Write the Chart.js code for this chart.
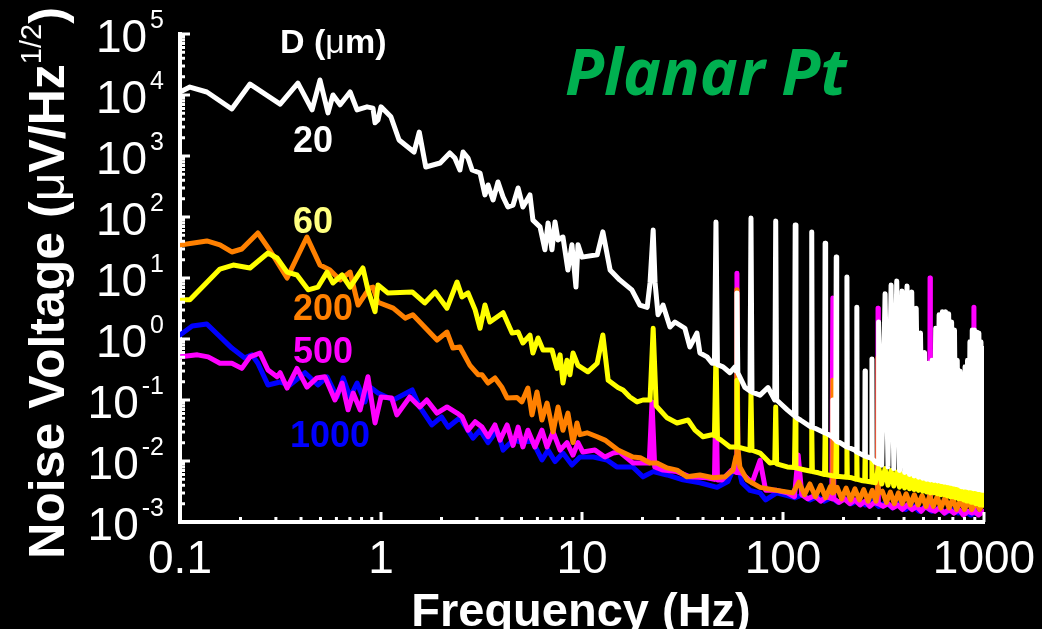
<!DOCTYPE html>
<html>
<head>
<meta charset="utf-8">
<script src="https://cdn.jsdelivr.net/npm/chart.js@4.4.1/dist/chart.umd.min.js"></script>
<style>
html, body { margin: 0; padding: 0; background: #000; overflow: hidden; }
</style>
</head>
<body>
<canvas id="noiseChart" width="1042" height="629"></canvas>
<script>
// Noise spectra for planar Pt electrodes of different diameter, [Hz, uV/sqrt(Hz)]
const noise20um = [
  [0.1, 11200], [0.112, 13500], [0.136, 11200], [0.181, 5900], [0.223, 15100], [0.315, 7100],
  [0.386, 15700], [0.454, 5700], [0.497, 17600], [0.545, 5100], [0.577, 10000], [0.626, 6900],
  [0.702, 11200], [0.76, 5700], [0.852, 6400], [0.912, 6100], [0.934, 3500], [0.966, 3900], [1.0, 6400],
  [1.12, 4400], [1.23, 1830], [1.46, 1160], [1.55, 2470], [1.67, 661], [1.97, 767], [2.2, 1120],
  [2.33, 927], [2.47, 589], [2.56, 1160], [2.71, 927], [2.84, 589], [3.11, 526], [3.29, 230],
  [3.41, 335], [3.61, 190], [3.82, 375], [4.05, 213], [4.28, 146], [4.54, 157], [4.81, 299],
  [5.08, 146], [5.51, 230], [5.7, 89], [6.18, 69], [6.54, 29], [6.78, 80], [7.09, 29], [7.34, 83],
  [7.6, 42], [8.04, 47], [8.51, 13.5], [8.91, 35], [9.33, 7.1], [9.55, 35], [10, 22], [11.9, 24],
  [12.7, 57], [13.8, 13.5], [14.1, 12.5], [15.4, 9.3], [17.7, 6.4], [19.4, 3.6], [21.1, 3.3],
  [21.8, 8.3], [22.6, 61], [23.1, 8.3], [23.9, 2.5], [25.3, 3.6], [27.4, 1.57], [29, 1.9],
  [32.5, 1.5], [34.4, 0.74], [37.3, 1.25], [38.6, 0.59], [41.9, 0.51], [44.4, 0.40], [45.6, 0.4],
  [46.4, 83], [47.2, 0.38], [50.3, 0.35], [54.5, 0.28], [57.7, 0.35], [58.4, 0.3], [59, 5.7],
  [59.6, 0.28], [64.7, 0.16], [68.5, 0.14], [69.3, 96], [70.1, 0.135], [76.9, 0.12], [84.2, 0.16],
  [91, 0.1], [92, 86], [93, 0.1], [105, 0.069], [114, 0.055], [115, 74], [116, 0.052], [122, 0.047],
  [138, 0.036], [139, 57], [140, 0.036], [161, 0.029], [162, 37], [163, 0.029], [176, 0.025],
  [177, 0.1], [178, 0.024], [183, 0.022], [184, 22], [185, 0.021], [192, 0.02], [207, 0.017],
  [208, 10.4], [209, 0.017], [228, 0.0151], [232, 0.014], [233, 3.3], [234, 0.014], [255, 0.012],
  [256, 0.3], [257, 0.012], [271, 0.0113], [276, 0.011], [277, 0.47], [278, 0.011], [288, 0.0095],
  [298, 0.009], [299, 1.9], [310, 0.0085], [322, 5.5], [333, 0.008], [345, 7.7], [356, 0.0075],
  [368, 8.9], [380, 0.007], [391, 6.1], [403, 0.0065], [414, 7.4], [426, 0.006], [437, 5.9],
  [449, 0.0057], [460, 3.2], [472, 0.0054], [483, 1.25], [495, 0.0052], [506, 0.6], [518, 0.005],
  [529, 0.4], [541, 0.0049], [552, 0.45], [564, 0.0048], [575, 1.5], [587, 0.0047], [598, 2.5],
  [610, 0.0046], [621, 2.8], [633, 0.0045], [644, 2.8], [656, 0.0044], [667, 2.6], [679, 0.0043],
  [690, 1.9], [702, 0.0042], [713, 1.4], [725, 0.0041], [736, 0.45], [748, 0.004], [759, 0.3],
  [771, 0.0038], [782, 0.26], [794, 0.0037], [805, 0.35], [817, 0.0037], [828, 0.45], [840, 0.0036],
  [851, 0.9], [863, 0.0036], [874, 1.4], [886, 0.0035], [897, 1.4], [909, 0.0035], [920, 1.3],
  [932, 0.0034], [943, 1.25], [955, 0.0034], [966, 0.9], [978, 0.0033], [989, 0.7], [1000, 0.0033]
];

const noise60um = [
  [0.1, 4.4], [0.112, 4.4], [0.158, 14], [0.184, 16.3], [0.223, 14.6], [0.274, 25.7], [0.304, 21.3],
  [0.341, 12.5], [0.382, 11.2], [0.434, 6.4], [0.486, 7.1], [0.539, 12.5], [0.577, 8.3], [0.64, 11.2],
  [0.702, 7.1], [0.813, 14.6], [0.861, 6.4], [0.934, 2.8], [0.966, 7.7], [1.08, 5.7], [1.43, 5.9],
  [1.65, 3.9], [1.86, 5.9], [2.13, 3.2], [2.39, 8.6], [2.53, 4.9], [2.71, 5.7], [2.94, 3.0],
  [3.11, 1.5], [3.29, 3.6], [3.48, 1.9], [4.05, 2.7], [4.49, 1.25], [4.81, 1.3], [5.08, 0.86],
  [5.51, 1.16], [5.7, 0.59], [6.04, 1.04], [6.4, 0.66], [7.09, 0.66], [7.51, 0.33], [7.78, 0.55],
  [8.04, 0.19], [8.42, 0.45], [8.71, 0.26], [9.02, 0.59], [9.55, 0.37], [10.7, 0.29], [11.9, 0.40],
  [12.7, 1.16], [13.5, 0.21], [15.1, 0.16], [16, 0.146], [17.3, 0.112], [18.8, 0.093], [20.1, 0.1],
  [21.8, 0.1], [22.6, 1.5], [23.4, 0.08], [26.5, 0.051], [29.7, 0.042], [33.7, 0.047], [36.5, 0.032],
  [40, 0.025], [44.4, 0.027], [45.6, 0.026], [46.4, 0.59], [47.2, 0.024], [49.2, 0.022], [54.5, 0.017],
  [58.4, 0.017], [59, 0.21], [59.6, 0.017], [62.5, 0.0163], [68.5, 0.015], [69.3, 0.13], [70.1, 0.015],
  [76.9, 0.0135], [86.1, 0.0093], [91, 0.0095], [92, 0.077], [93, 0.009], [105, 0.008], [114, 0.0078],
  [115, 0.05], [116, 0.0077], [127, 0.0072], [138, 0.0068], [139, 0.035], [140, 0.0067], [150, 0.0064],
  [161, 0.006], [162, 0.028], [163, 0.006], [173, 0.0058], [183, 0.0056], [184, 0.02], [185, 0.0056],
  [196, 0.0055], [207, 0.0054], [208, 0.016], [209, 0.0054], [220, 0.0053], [232, 0.005], [233, 0.013],
  [234, 0.005], [245, 0.0048], [255, 0.0047], [256, 0.011], [257, 0.0047], [266, 0.0046], [276, 0.0045],
  [277, 0.01], [278, 0.0045], [288, 0.0044], [299, 0.008], [310, 0.0042], [322, 0.0075], [333, 0.004],
  [345, 0.007], [356, 0.0039], [368, 0.0066], [380, 0.0037], [391, 0.0063], [403, 0.0036], [414, 0.006],
  [426, 0.0035], [437, 0.0057], [449, 0.0034], [460, 0.0055], [472, 0.0033], [483, 0.0052], [495, 0.0032],
  [506, 0.005], [518, 0.0031], [529, 0.0048], [541, 0.003], [552, 0.0047], [564, 0.003], [575, 0.0046],
  [587, 0.0029], [598, 0.0045], [610, 0.0028], [621, 0.0044], [633, 0.0028], [644, 0.0043], [656, 0.0027],
  [667, 0.0042], [679, 0.0026], [690, 0.0041], [702, 0.0026], [713, 0.004], [725, 0.0025], [736, 0.0039],
  [748, 0.0024], [759, 0.0038], [771, 0.0024], [782, 0.0037], [794, 0.0023], [805, 0.0036], [817, 0.0022],
  [828, 0.0036], [840, 0.0022], [851, 0.0035], [863, 0.0021], [874, 0.0035], [886, 0.0021], [897, 0.0034],
  [909, 0.002], [920, 0.0034], [932, 0.002], [943, 0.0033], [955, 0.0019], [966, 0.0033], [978, 0.0019],
  [989, 0.0033], [1000, 0.0019]
];

const noise200um = [
  [0.1, 34.8], [0.136, 40.5], [0.158, 35], [0.181, 26.7], [0.203, 29.9], [0.244, 54.7], [0.281, 28],
  [0.341, 10], [0.428, 47], [0.497, 16.3], [0.557, 13.5], [0.626, 9.3], [0.702, 12.5], [0.769, 3.6],
  [0.832, 5.3], [0.881, 6.9], [0.912, 7.1], [0.966, 4.0], [1.15, 3.2], [1.32, 2.2], [1.44, 2.5],
  [1.9, 0.96], [2.13, 1.3], [2.28, 0.71], [2.47, 0.74], [2.77, 0.37], [3.04, 0.26], [3.18, 0.26],
  [3.41, 0.19], [3.69, 0.23], [4.0, 0.16], [4.24, 0.108], [4.75, 0.11], [5.02, 0.093], [5.38, 0.157],
  [5.64, 0.057], [5.97, 0.135], [6.32, 0.047], [6.7, 0.089], [7.18, 0.030], [7.6, 0.077], [8.04, 0.032],
  [8.51, 0.061], [9.02, 0.020], [9.44, 0.042], [9.77, 0.027], [10.6, 0.029], [11.9, 0.025], [13.0, 0.022],
  [15.1, 0.0151], [17.9, 0.0116], [19.5, 0.0113], [21.8, 0.0093], [23.6, 0.0093], [26.5, 0.0077],
  [29.7, 0.0071], [33.3, 0.0055], [38.6, 0.0059], [45, 0.0053], [51.4, 0.0055], [56.4, 0.0071],
  [58.4, 0.012], [59, 6.4], [59.6, 0.017], [61, 0.008], [66.2, 0.0049], [76.9, 0.0037], [93.3, 0.0033],
  [112, 0.003], [120, 0.0045], [128, 0.0028], [136, 0.0042], [145, 0.0026], [154, 0.004], [163, 0.0025],
  [172, 0.0038], [176, 0.003], [177, 0.21], [178, 0.003], [186, 0.0037], [196, 0.0024], [206, 0.0036],
  [217, 0.0023], [228, 0.0035], [240, 0.0023], [252, 0.0034], [265, 0.0022], [278, 0.0033], [290, 0.0022],
  [296, 0.003], [297, 0.5], [298, 0.003], [312, 0.0032], [327, 0.0021], [342, 0.0031], [358, 0.002],
  [375, 0.003], [392, 0.002], [410, 0.0029], [430, 0.0019], [450, 0.0028], [470, 0.0019], [492, 0.0027],
  [515, 0.0018], [535, 0.0026], [538, 0.0025], [539, 0.2], [540, 0.0025], [560, 0.0018], [585, 0.0026],
  [610, 0.0017], [640, 0.0025], [670, 0.0017], [700, 0.0024], [730, 0.0016], [765, 0.0023], [800, 0.0016],
  [835, 0.0023], [870, 0.0016], [910, 0.0022], [950, 0.0016], [1000, 0.0021]
];

const noise500um = [
  [0.1, 0.51], [0.122, 0.55], [0.138, 0.51], [0.158, 0.40], [0.181, 0.40], [0.203, 0.33], [0.223, 0.51],
  [0.25, 0.59], [0.274, 0.31], [0.304, 0.24], [0.315, 0.28], [0.341, 0.157], [0.382, 0.33], [0.428, 0.163],
  [0.48, 0.23], [0.526, 0.24], [0.59, 0.10], [0.64, 0.19], [0.686, 0.069], [0.727, 0.13], [0.787, 0.069],
  [0.861, 0.24], [0.934, 0.042], [1.0, 0.112], [1.13, 0.108], [1.2, 0.057], [1.39, 0.112], [1.56, 0.077],
  [1.69, 0.10], [1.9, 0.061], [2.13, 0.077], [2.39, 0.061], [2.53, 0.053], [2.71, 0.032], [2.94, 0.044],
  [3.18, 0.036], [3.41, 0.025], [3.69, 0.039], [3.91, 0.022], [4.24, 0.039], [4.54, 0.018], [4.81, 0.036],
  [5.08, 0.017], [5.38, 0.032], [5.83, 0.017], [6.32, 0.032], [6.7, 0.017], [7.18, 0.030], [7.78, 0.0151],
  [8.42, 0.020], [9.02, 0.0125], [9.55, 0.020], [10.1, 0.014], [11.6, 0.0151], [13.0, 0.0116],
  [14.3, 0.0135], [15.4, 0.014], [17.9, 0.0093], [21.6, 0.0093], [22.3, 0.093], [23.0, 0.008],
  [25.3, 0.0071], [29.7, 0.0067], [34.4, 0.0055], [41.9, 0.0053], [45.6, 0.005], [46.4, 0.13],
  [47.2, 0.0049], [49.7, 0.0049], [55.6, 0.0071], [58.4, 0.0065], [59, 12], [59.6, 0.0065],
  [62.5, 0.0063], [70.2, 0.0044], [76.9, 0.0103], [82, 0.0033], [93, 0.0033], [105, 0.003],
  [114, 0.0026], [119, 0.0125], [124, 0.0028], [133, 0.0024], [143, 0.0027], [154, 0.0022], [165, 0.0026],
  [175, 0.0024], [177, 4.7], [179, 0.0024], [190, 0.0021], [202, 0.0024], [215, 0.002], [228, 0.0023],
  [242, 0.0019], [256, 0.0022], [270, 0.0018], [285, 0.0021], [296, 0.002], [297, 3.2], [298, 0.002],
  [315, 0.0018], [333, 0.002], [352, 0.0017], [372, 0.0019], [393, 0.0016], [415, 0.0019], [438, 0.0016],
  [462, 0.0018], [487, 0.0015], [512, 0.0018], [537, 0.0016], [539, 10], [541, 0.0016], [570, 0.0015],
  [600, 0.0017], [635, 0.0014], [670, 0.0016], [710, 0.0014], [750, 0.0016], [790, 0.0013], [830, 0.0015],
  [870, 0.0014], [889, 0.0015], [891, 3.3], [893, 0.0015], [940, 0.0013], [1000, 0.0015]
];

const noise1000um = [
  [0.1, 1.16], [0.115, 1.63], [0.136, 1.76], [0.155, 1.16], [0.181, 0.71], [0.21, 0.49], [0.228, 0.55],
  [0.244, 0.40], [0.274, 0.176], [0.315, 0.197], [0.352, 0.176], [0.419, 0.28], [0.486, 0.176],
  [0.539, 0.24], [0.605, 0.112], [0.648, 0.23], [0.702, 0.112], [0.76, 0.19], [0.832, 0.093],
  [0.881, 0.163], [0.966, 0.13], [1.15, 0.10], [1.43, 0.146], [1.56, 0.077], [1.79, 0.039], [2.0, 0.053],
  [2.16, 0.036], [2.47, 0.051], [2.87, 0.0238], [3.11, 0.032], [3.41, 0.020], [3.78, 0.032], [4.05, 0.0151],
  [4.54, 0.022], [5.08, 0.020], [5.64, 0.022], [6.32, 0.0104], [6.78, 0.0151], [7.34, 0.0098],
  [8.04, 0.0135], [8.91, 0.0086], [9.77, 0.0116], [11.4, 0.0116], [13.3, 0.0104], [14.9, 0.008],
  [17.9, 0.008], [20.1, 0.0055], [22.6, 0.0067], [26.5, 0.0059], [31.8, 0.0049], [38.6, 0.0044],
  [47, 0.0037], [53.2, 0.0046], [56.4, 0.0071], [59, 0.0098], [62.5, 0.0044], [68.5, 0.0033],
  [76.9, 0.003], [82, 0.0023], [93, 0.003], [105, 0.0027], [115, 0.0025], [125, 0.0028], [136, 0.0023],
  [148, 0.0026], [160, 0.0022], [174, 0.0025], [188, 0.0021], [204, 0.0024], [220, 0.002], [238, 0.0023],
  [257, 0.0019], [278, 0.0022], [300, 0.0018], [325, 0.0021], [350, 0.0017], [378, 0.002], [408, 0.0016],
  [440, 0.0019], [475, 0.0015], [510, 0.0018], [550, 0.0015], [595, 0.0017], [640, 0.0014], [690, 0.0016],
  [745, 0.0014], [800, 0.0015], [860, 0.0013], [925, 0.0015], [1000, 0.0014]
];

// axis ticks and labels
const xTickValues = [0.1, 1, 10, 100, 1000];
const xTickLabels = ['0.1', '1', '10', '100', '1000'];
const yTickPowers = [-3, -2, -1, 0, 1, 2, 3, 4, 5];

// curve labels: text, colour
const curveLabels = [
  { text: '20', color: '#ffffff', x: 293, y: 152 },
  { text: '60', color: '#ffff80', x: 293, y: 233 },
  { text: '200', color: '#ff8000', x: 293, y: 320 },
  { text: '500', color: '#ff00ff', x: 293, y: 363 },
  { text: '1000', color: '#0000ff', x: 290, y: 447 }
];

const FONT = '"Liberation Sans", Arial, sans-serif';

function toPoints(arr) {
  return arr.map(p => ({ x: p[0], y: p[1] }));
}

function drawPieces(ctx, pieces, x, y) {
  // pieces: [text, font, dy]
  let cx = x;
  for (const [t, f, dy] of pieces) {
    ctx.font = f;
    ctx.fillText(t, cx, y + dy);
    cx += ctx.measureText(t).width;
  }
  return cx - x;
}

function piecesWidth(ctx, pieces) {
  let w = 0;
  for (const [t, f] of pieces) { ctx.font = f; w += ctx.measureText(t).width; }
  return w;
}

const decorPlugin = {
  id: 'decor',
  afterDraw(chart) {
    const { ctx, chartArea: a, scales: { x, y } } = chart;
    ctx.save();

    // inward tick marks
    ctx.strokeStyle = '#ffffff';
    ctx.lineWidth = 3;
    ctx.beginPath();
    for (let n = -3; n <= 5; n++) {
      for (let d = 1; d <= 9; d++) {
        const v = d * Math.pow(10, n);
        if (v > 1.0001e5) break;
        const py = y.getPixelForValue(v);
        const len = d === 1 ? 10 : 5;
        ctx.moveTo(a.left, py);
        ctx.lineTo(a.left + len, py);
      }
    }
    for (let n = -1; n <= 3; n++) {
      for (let d = 1; d <= 9; d++) {
        const v = d * Math.pow(10, n);
        if (v > 1000.1) break;
        const px = x.getPixelForValue(v);
        const len = d === 1 ? 10 : 5;
        ctx.moveTo(px, a.bottom);
        ctx.lineTo(px, a.bottom - len);
      }
    }
    ctx.stroke();

    ctx.fillStyle = '#ffffff';
    ctx.textBaseline = 'alphabetic';

    // y tick labels 10^n
    const labelRight = 164;
    for (const n of yTickPowers) {
      const py = y.getPixelForValue(Math.pow(10, n));
      const exp = n < 0 ? '-' + Math.abs(n) : String(n);
      ctx.font = '25px ' + FONT;
      ctx.textAlign = 'right';
      const ew = ctx.measureText(exp).width;
      ctx.fillText(exp, labelRight, py - 6);
      ctx.font = '46px ' + FONT;
      ctx.fillText('10', labelRight - ew - 3, py + 18);
    }

    // x tick labels
    ctx.font = '46px ' + FONT;
    ctx.textAlign = 'center';
    xTickValues.forEach((v, i) => {
      ctx.fillText(xTickLabels[i], x.getPixelForValue(v), a.bottom + 51);
    });

    // x axis title
    ctx.font = 'bold 47px ' + FONT;
    ctx.fillText('Frequency (Hz)', 581, 626);

    // y axis title, rotated
    const yTitle = [
      ['Noise Voltage (', 'bold 50px ' + FONT, 0],
      ['\u03bc', '50px ' + FONT, 0],
      ['V/Hz', 'bold 50px ' + FONT, 0],
      ['1/2', '29px ' + FONT, -23],
      [')', 'bold 50px ' + FONT, 0]
    ];
    ctx.textAlign = 'left';
    const tw = piecesWidth(ctx, yTitle);
    ctx.save();
    ctx.translate(64, 283 + tw / 2);
    ctx.rotate(-Math.PI / 2);
    drawPieces(ctx, yTitle, 0, 0);
    ctx.restore();

    // legend heading
    drawPieces(ctx, [
      ['D (', 'bold 34px ' + FONT, 0],
      ['\u03bc', '34px ' + FONT, 0],
      ['m)', 'bold 34px ' + FONT, 0]
    ], 280, 53);

    // curve labels
    ctx.font = 'bold 36px ' + FONT;
    for (const l of curveLabels) {
      ctx.fillStyle = l.color;
      ctx.fillText(l.text, l.x, l.y);
    }

    // title
    ctx.fillStyle = '#00b050';
    ctx.font = 'italic bold 60px "Open Sans", sans-serif';
    const pw = ctx.measureText('Planar Pt').width;
    const size = Math.round(60 * 283 / pw);
    ctx.font = 'italic bold ' + size + 'px "Open Sans", sans-serif';
    ctx.fillText('Planar Pt', 565, 95);

    ctx.restore();
  }
};

const lineStyle = {
  showLine: true,
  pointRadius: 0,
  borderWidth: 5,
  tension: 0,
  borderJoinStyle: 'round',
  borderCapStyle: 'round'
};

new Chart(document.getElementById('noiseChart').getContext('2d'), {
  type: 'scatter',
  data: {
    datasets: [
      { label: '20', data: toPoints(noise20um), borderColor: '#ffffff', ...lineStyle },
      { label: '60', data: toPoints(noise60um), borderColor: '#ffff00', ...lineStyle },
      { label: '200', data: toPoints(noise200um), borderColor: '#ff8000', ...lineStyle },
      { label: '500', data: toPoints(noise500um), borderColor: '#ff00ff', ...lineStyle },
      { label: '1000', data: toPoints(noise1000um), borderColor: '#0000ff', ...lineStyle }
    ]
  },
  options: {
    responsive: false,
    animation: false,
    events: [],
    layout: { padding: { left: 0, right: 58, top: 34, bottom: 0 } },
    scales: {
      x: {
        type: 'logarithmic',
        min: 0.1, max: 1000,
        grid: { display: false },
        border: { display: true, color: '#ffffff', width: 4 },
        ticks: { display: false },
        afterFit: (scale) => { scale.height = 107; }
      },
      y: {
        type: 'logarithmic',
        min: 1e-3, max: 1e5,
        grid: { display: false },
        border: { display: true, color: '#ffffff', width: 4 },
        ticks: { display: false },
        afterFit: (scale) => { scale.width = 180; }
      }
    },
    plugins: { legend: { display: false }, tooltip: { enabled: false } }
  },
  plugins: [decorPlugin]
});
</script>
</body>
</html>
